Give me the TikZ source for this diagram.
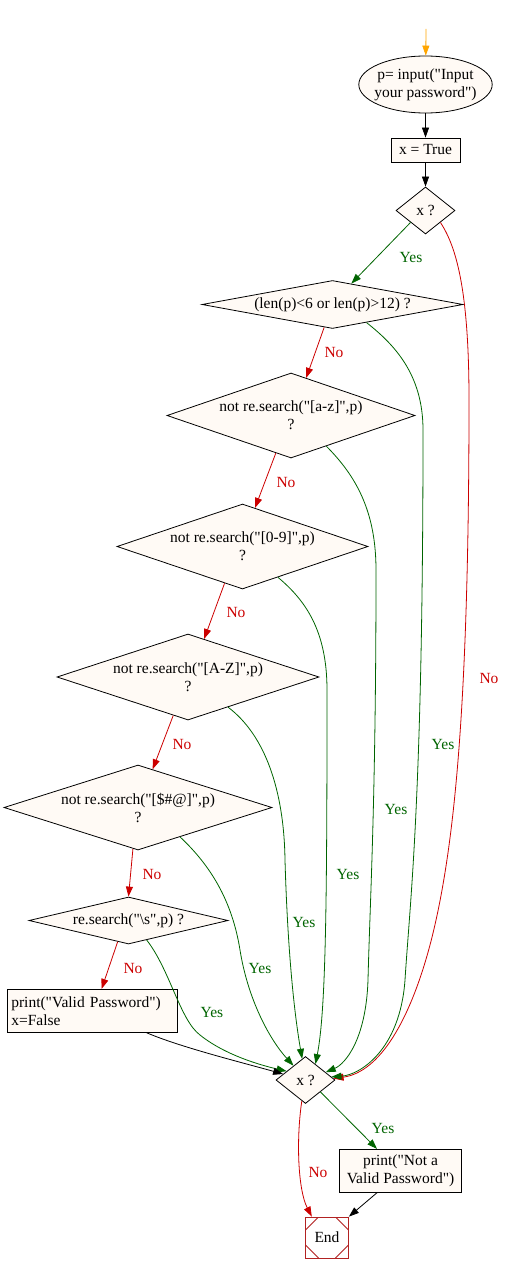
\documentclass[tikz,border=0pt]{standalone}
\usepackage{fontspec}
\setmainfont{Liberation Serif}[Ligatures=TeXOff]
\usetikzlibrary{shapes.geometric,arrows.meta}
\definecolor{cream}{RGB}{255,250,245}
\definecolor{yesgreen}{RGB}{0,100,0}
\definecolor{nored}{RGB}{204,0,0}
\definecolor{startorange}{RGB}{255,165,0}
\definecolor{endred}{RGB}{178,34,34}
\begin{document}
\begin{tikzpicture}[x=1pt,y=-1pt,line width=0.8pt,>={Triangle[length=10pt,width=7pt]},font=\fontsize{15.5}{18}\selectfont,
decision/.style = {diamond, draw, fill=cream, inner sep=0pt, align=center},
block/.style = {rectangle, draw, fill=cream, inner sep=0pt, align=center},
yesedge/.style = {->, yesgreen},
noedge/.style = {->, nored},
yeslab/.style = {text=yesgreen, inner sep=0pt},
nolab/.style = {text=nored, inner sep=0pt},
stopbox/.style = {rectangle, draw=endred, fill=white, minimum width=43pt, minimum height=41pt, inner sep=0pt,
 path picture={\draw[endred,line width=0.8pt]
 ([yshift=-13pt]path picture bounding box.north west) -- ([xshift=13pt]path picture bounding box.north west)
 ([xshift=-13pt]path picture bounding box.north east) -- ([yshift=-13pt]path picture bounding box.north east)
 ([yshift=13pt]path picture bounding box.south east) -- ([xshift=-13pt]path picture bounding box.south east)
 ([xshift=13pt]path picture bounding box.south west) -- ([yshift=13pt]path picture bounding box.south west);}}]
\useasboundingbox (0,0) rectangle (509,1273);
\coordinate (s0) at (426,29);
\node[ellipse, draw, fill=cream, minimum width=131pt, minimum height=57pt, inner xsep=-4pt, inner ysep=0pt, align=center] (inp) at (425.5,84.5) {p= input("Input\\your password")};
\node[block, minimum width=69pt, minimum height=24pt] (xt) at (425.5,150) {x = True};
\node[decision, minimum width=59pt, minimum height=47pt] (x1) at (425.5,210.5) {x ?};
\node[decision, minimum width=261pt, minimum height=48pt, shape aspect=5.4] (c1) at (332.5,304.5) {(len(p)<6 or len(p)>12) ?};
\node[decision, minimum width=248pt, minimum height=85pt, shape aspect=2.9] (c2) at (291,415.5) {not re.search("[a-z]",p)\\?};
\node[decision, minimum width=251pt, minimum height=85pt, shape aspect=2.9] (c3) at (242.5,546.5) {not re.search("[0-9]",p)\\?};
\node[decision, minimum width=262pt, minimum height=86pt, shape aspect=3] (c4) at (188,677) {not re.search("[A-Z]",p)\\?};
\node[decision, minimum width=268pt, minimum height=85pt, shape aspect=3.1] (c5) at (138,807.5) {not re.search("[\$\#@]",p)\\?};
\node[decision, minimum width=199pt, minimum height=47pt, shape aspect=4.2] (c6) at (128.5,920.5) {re.search("\textbackslash s",p) ?};
\node[block, text width=162pt, inner xsep=4pt, minimum height=43pt, align=left] (ok) at (92.3,1010.8) {print("Valid Password")\\x=False};
\node[decision, minimum width=59pt, minimum height=47pt] (x2) at (305.5,1080) {x ?};
\node[block, minimum width=122pt, minimum height=43pt] (bad) at (400.5,1170.8) {print("Not a\\Valid Password")};
\node[stopbox] (end) at (327,1237.5) {End};
\draw[->,startorange] (s0) -- (inp);
\draw[->] (inp) -- (xt);
\draw[->] (xt) -- (x1);
\draw[yesedge] (x1.south west) -- (c1.48);
\draw[noedge] (x1.south east) .. controls (455,245) and (469,285) .. (469,400) .. controls (469,700) and (455,850) .. (430,945) .. controls (410,1020) and (380,1072) .. (x2.3);
\draw[noedge] (c1.-110) -- (c2.68);
\draw[noedge] (c2.-112) -- (c3.72);
\draw[noedge] (c3.-116) -- (c4.67);
\draw[noedge] (c4.-111) -- (c5.69);
\draw[noedge] (c5.-97) -- (c6.north);
\draw[noedge] (c6.-117) -- (ok.67);
\draw[yesedge] (c1.-28) .. controls (395,345) and (423,375) .. (423,430) .. controls (423,800) and (410,900) .. (405,980) .. controls (400,1050) and (360,1075) .. (x2.7);
\draw[yesedge] (c2.-41) .. controls (355,475) and (376,510) .. (376,570) .. controls (376,800) and (370,900) .. (368,980) .. controls (366,1040) and (345,1064) .. (x2.21);
\draw[yesedge] (c3.-41) .. controls (305,600) and (327,630) .. (327,690) .. controls (327,900) and (326,1010) .. (x2.58);
\draw[yesedge] (c4.-37) .. controls (265,735) and (284,790) .. (285,860) .. controls (287,930) and (292,1000) .. (x2.99);
\draw[yesedge] (c5.-35) .. controls (210,865) and (232,900) .. (240,950) .. controls (248,1000) and (270,1040) .. (x2.130);
\draw[yesedge] (c6.-47) .. controls (170,970) and (180,1020) .. (200,1035) .. controls (225,1055) and (260,1065) .. (x2.155);
\draw[->] (ok.-22) .. controls (180,1047) and (240,1062) .. (x2.165);
\draw[noedge] (x2.-100) .. controls (296,1140) and (298,1190) .. (end.126);
\draw[yesedge] (x2.south east) -- (bad.137);
\draw[->] (bad.-137) -- (end.north east);
\node[yeslab] (y0) at (411,258) {Yes};
\node[nolab] (n0) at (489,678) {No};
\node[nolab] (n1) at (334,352) {No};
\node[nolab] (n2) at (286,482) {No};
\node[nolab] (n3) at (236,612) {No};
\node[nolab] (n4) at (182,744) {No};
\node[nolab] (n5) at (152,874) {No};
\node[nolab] (n6) at (133,968) {No};
\node[yeslab] (y1) at (443,744) {Yes};
\node[yeslab] (y2) at (396,809) {Yes};
\node[yeslab] (y3) at (348,874) {Yes};
\node[yeslab] (y4) at (304,922) {Yes};
\node[yeslab] (y5) at (260,968) {Yes};
\node[yeslab] (y6) at (212,1012) {Yes};
\node[nolab] (n7) at (318,1172) {No};
\node[yeslab] (y7) at (383,1128) {Yes};
\end{tikzpicture}
\end{document}
